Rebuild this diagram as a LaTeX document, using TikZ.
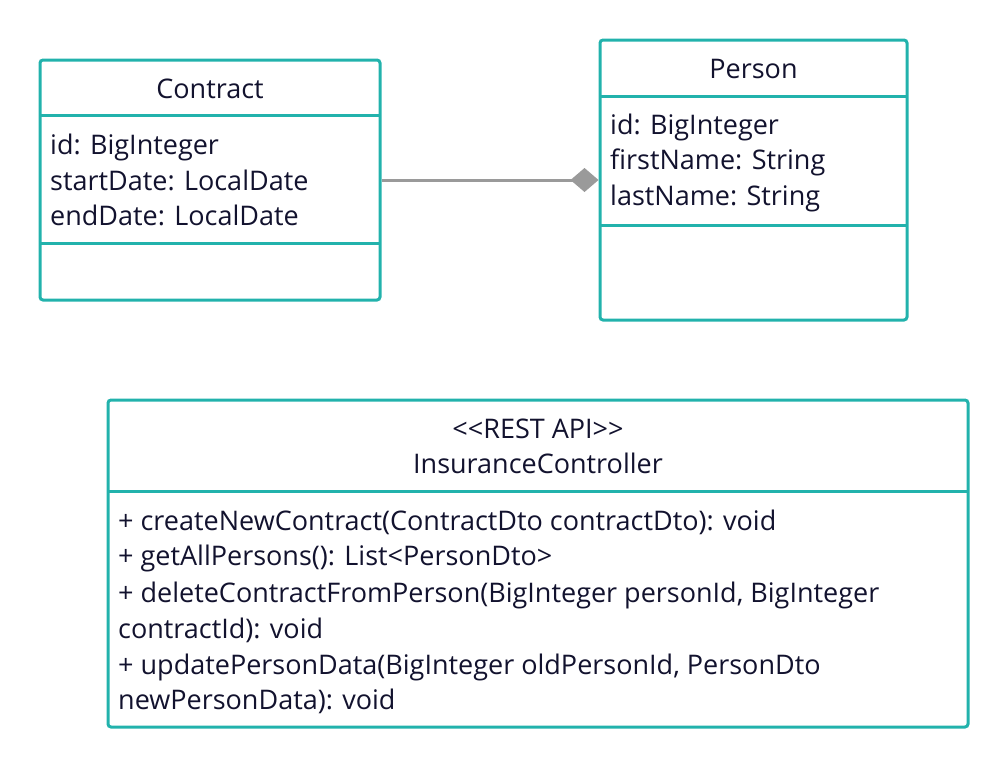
\documentclass[tikz,border=0pt]{standalone}
\usepackage{fontspec}
\setmainfont{Open Sans}
\usetikzlibrary{arrows.meta}
\definecolor{umlteal}{HTML}{22B2AC}
\definecolor{umlgray}{HTML}{9A9A9A}
\definecolor{umltext}{HTML}{12122E}
\tikzset{
 classbox/.style={draw=umlteal,line width=3pt,rounded corners=3pt,inner sep=0pt},
 divider/.style={draw=umlteal,line width=3pt},
 title/.style={font=\fontsize{27}{32}\selectfont,text=umltext,anchor=base,inner sep=0pt},
 member/.style={font=\fontsize{27}{32}\selectfont,text=umltext,anchor=base west,inner sep=0pt},
 composition/.style={-{Diamond[length=28pt,width=24pt,fill=umlgray]},draw=umlgray,line width=3pt}
}

\begin{document}
\begin{tikzpicture}[x=1pt,y=-1pt]
\useasboundingbox (0,0) rectangle (1007,769);
% classes
\node[classbox,minimum width=340pt,minimum height=240pt] (contract) at (210,180) {};
\node[classbox,minimum width=307pt,minimum height=280pt] (person) at (753.5,180) {};
\node[classbox,minimum width=860pt,minimum height=327pt] (ctrl) at (538,563.5) {};
% compartments
\draw[divider] (40,115) -- (380,115);
\draw[divider] (40,243) -- (380,243);
\draw[divider] (600,96) -- (907,96);
\draw[divider] (600,225) -- (907,225);
\draw[divider] (108,491) -- (968,491);
% Contract
\node[title] (contractname) at (210,98) {Contract};
\node[member] (c1) at (50,154) {id: BigInteger};
\node[member] (c2) at (50,190) {startDate: LocalDate};
\node[member] (c3) at (50,225) {endDate: LocalDate};
% Person
\node[title] (personname) at (753.5,78) {Person};
\node[member] (p1) at (610,134) {id: BigInteger};
\node[member] (p2) at (610,169) {firstName: String};
\node[member] (p3) at (610,205) {lastName: String};
% controller
\node[title] (stereo) at (538,438) {<{}<REST API>{}>};
\node[title] (ctrlname) at (538,473) {InsuranceController};
\node[member] (m1) at (118,530) {+ createNewContract(ContractDto contractDto): void};
\node[member] (m2) at (118,565) {+ getAllPersons(): List<PersonDto>};
\node[member] (m3) at (118,602) {+ deleteContractFromPerson(BigInteger personId, BigInteger};
\node[member] (m4) at (118,638) {contractId): void};
\node[member] (m5) at (118,674) {+ updatePersonData(BigInteger oldPersonId, PersonDto};
\node[member] (m6) at (118,709) {newPersonData): void};
% association
\draw[composition] (contract.east) -- (person.west);
\end{tikzpicture}
\end{document}
